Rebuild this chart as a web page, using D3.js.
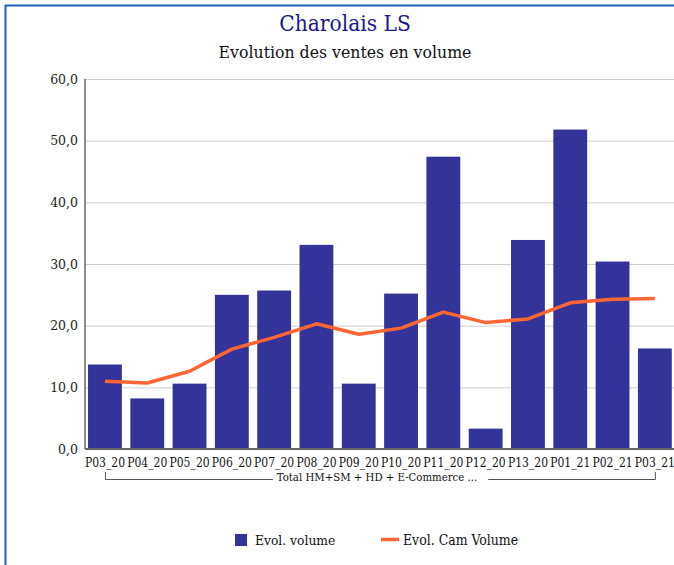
<!DOCTYPE html>
<html>
<head>
<meta charset="utf-8">
<script src="https://cdn.jsdelivr.net/npm/d3@7"></script>
<style>
  html, body { margin: 0; padding: 0; background: #fff; }
  svg { display: block; }
  text { font-family: "DejaVu Serif", serif; font-stretch: condensed; }
</style>
</head>
<body>
<svg id="chart" width="674" height="565"></svg>
<script>
const categories = ["P03_20","P04_20","P05_20","P06_20","P07_20","P08_20","P09_20","P10_20","P11_20","P12_20","P13_20","P01_21","P02_21","P03_21"];
const evolVolume = [13.7, 8.2, 10.6, 25.0, 25.7, 33.1, 10.6, 25.2, 47.4, 3.3, 33.9, 51.8, 30.4, 16.3];
const evolCamVolume = [11.0, 10.7, 12.6, 16.2, 18.1, 20.3, 18.6, 19.6, 22.2, 20.5, 21.1, 23.7, 24.3, 24.4];
const yTicks = [0, 10, 20, 30, 40, 50, 60];
const groupLabel = "Total HM+SM + HD + E-Commerce ...";
const title = "Charolais LS";
const subtitle = "Evolution des ventes en volume";
const seriesNames = ["Evol. volume", "Evol. Cam Volume"];

const svg = d3.select("#chart");
const W = 674, H = 565;

// frame border (left + top visible)
svg.append("line").attr("x1", 5.5).attr("x2", 5.5).attr("y1", 5).attr("y2", H)
  .attr("stroke", "#1c5fb8").attr("stroke-width", 2);
svg.append("line").attr("x1", 5).attr("x2", W).attr("y1", 5.5).attr("y2", 5.5)
  .attr("stroke", "#1c5fb8").attr("stroke-width", 2);

// titles
svg.append("text").attr("x", 345).attr("y", 31).attr("text-anchor", "middle")
  .attr("font-size", 22.5).attr("fill", "#1a1a8c").text(title);
svg.append("text").attr("x", 345).attr("y", 58).attr("text-anchor", "middle")
  .attr("font-size", 17.5).attr("fill", "#111").text(subtitle);

const axisX = 85;
const x = d3.scaleBand().domain(categories).range([83.8, 676]).paddingInner(0.2).paddingOuter(0.1);
const y = d3.scaleLinear().domain([0, 60]).range([449, 79]);

// gridlines
const yAxis = d3.axisLeft(y).tickValues(yTicks).tickSize(-(W - axisX)).tickPadding(7)
  .tickFormat(d => d3.format(".1f")(d).replace(".", ","));
const gy = svg.append("g").attr("transform", `translate(${axisX},0)`).call(yAxis);
gy.select(".domain").remove();
gy.selectAll(".tick line").attr("stroke", "#cfcfcf").attr("stroke-width", 1);
gy.selectAll(".tick text").attr("fill", "#222")
  .style("font-stretch", "normal").attr("font-size", 12.5);

// bars
svg.append("g").selectAll("rect").data(evolVolume).join("rect")
  .attr("x", (d, i) => x(categories[i]))
  .attr("width", x.bandwidth())
  .attr("y", d => y(d))
  .attr("height", d => y(0) - y(d))
  .attr("fill", "#333399");

// left axis line
svg.append("line").attr("x1", axisX).attr("x2", axisX).attr("y1", y(60)).attr("y2", y(0))
  .attr("stroke", "#444").attr("stroke-width", 1.2);

// bottom axis
const xAxis = d3.axisBottom(x).tickSize(0).tickPadding(9);
const gx = svg.append("g").attr("transform", `translate(0,${y(0)})`).call(xAxis);
gx.select(".domain").remove();
gx.selectAll(".tick text").attr("font-size", 12).attr("fill", "#111");
svg.append("line").attr("x1", axisX).attr("x2", W).attr("y1", y(0)).attr("y2", y(0))
  .attr("stroke", "#666").attr("stroke-width", 2);

// line series
const line = d3.line().x((d, i) => x(categories[i]) + x.bandwidth() / 2).y(d => y(d));
svg.append("path").datum(evolCamVolume).attr("d", line)
  .attr("fill", "none").attr("stroke", "#ff6633").attr("stroke-width", 3.5)
  .attr("stroke-linejoin", "round");

// group bracket
const gx0 = x(categories[0]) + x.bandwidth() / 2;
const gx1 = x(categories[categories.length - 1]) + x.bandwidth() / 2;
const by = 479.5, bTop = 472;
const gText = svg.append("text").attr("x", 377).attr("y", 481)
  .attr("text-anchor", "middle").attr("font-size", 11.3).attr("fill", "#111").text(groupLabel);
const tb = gText.node().getBBox();
const bracket = svg.append("g").attr("stroke", "#555").attr("stroke-width", 1).attr("fill", "none");
bracket.append("path").attr("d", `M${gx0 + 0.5},${bTop}V${by}H${tb.x - 4}`);
bracket.append("path").attr("d", `M${tb.x + tb.width + 11},${by}H${gx1 + 0.5}V${bTop}`);

// legend
const lg = svg.append("g");
lg.append("rect").attr("x", 235).attr("y", 534).attr("width", 12).attr("height", 12).attr("fill", "#333399");
lg.append("text").attr("x", 255).attr("y", 545).attr("font-size", 13.7).attr("fill", "#111").text(seriesNames[0]);
lg.append("line").attr("x1", 381).attr("x2", 399).attr("y1", 539.5).attr("y2", 539.5)
  .attr("stroke", "#ff6633").attr("stroke-width", 3.5);
lg.append("text").attr("x", 403).attr("y", 545).attr("font-size", 13.9).attr("fill", "#111").text(seriesNames[1]);
</script>
</body>
</html>
